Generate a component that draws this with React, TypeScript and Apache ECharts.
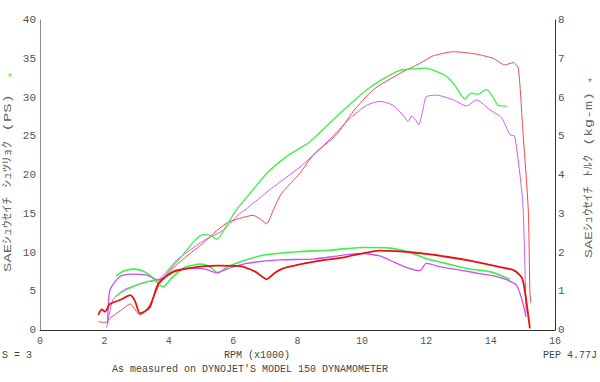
import React, { useEffect, useRef } from "react";
import * as echarts from "echarts";

// Run A (green)
const greenPowerRpm = [2.33, 2.6, 3.0, 3.5, 3.8, 4.0, 4.4, 4.8, 5.06, 5.3, 5.5, 5.8, 6.1, 6.5, 7.04, 7.7, 8.39, 9.1, 9.6, 10.15, 10.7, 11.18, 11.6, 11.96, 12.3, 12.63, 12.9, 13.2, 13.4, 13.6, 13.87, 14.05, 14.23, 14.5];
const greenPowerPs = [4.3, 5.0, 5.8, 6.4, 6.6, 7.6, 9.5, 11.5, 12.3, 12.2, 11.7, 13.5, 15.5, 17.5, 20.2, 22.5, 24.3, 27.1, 29.0, 31.0, 32.5, 33.5, 33.7, 33.8, 33.4, 32.7, 31.5, 29.8, 30.6, 30.4, 31.05, 30.2, 29.0, 28.9];
const greenTorqueRpm = [2.36, 2.6, 2.9, 3.2, 3.5, 3.82, 4.1, 4.5, 5.0, 5.3, 5.53, 5.8, 6.3, 7.0, 8.0, 9.0, 10.0, 10.8, 11.5, 12.0, 12.6, 13.3, 14.0, 14.6];
const greenTorqueKgm = [1.39, 1.52, 1.57, 1.52, 1.35, 1.11, 1.35, 1.62, 1.7, 1.62, 1.47, 1.62, 1.78, 1.94, 2.02, 2.06, 2.13, 2.12, 2.0, 1.84, 1.72, 1.58, 1.5, 1.31];

// Run B (magenta)
const magentaPowerRpm = [2.07, 2.15, 2.27, 2.59, 3.0, 3.3, 3.67, 3.95, 4.24, 4.66, 5.07, 5.4, 5.7, 6.2, 6.37, 7.2, 8.07, 8.6, 9.1, 9.6, 10.15, 10.56, 10.97, 11.28, 11.44, 11.54, 11.65, 11.77, 11.9, 12.0, 12.32, 12.84, 13.25, 13.56, 13.98, 14.34, 14.6, 14.75, 15.0, 15.1];
const magentaPowerPs = [0.26, 2.0, 3.9, 5.16, 5.8, 6.2, 6.45, 7.6, 9.0, 10.3, 11.5, 12.2, 12.9, 15.0, 15.5, 18.3, 21.0, 23.0, 25.0, 27.2, 29.0, 29.5, 29.0, 27.7, 26.9, 27.6, 27.2, 26.5, 28.5, 30.1, 30.3, 29.7, 28.9, 29.7, 28.4, 27.4, 25.2, 25.0, 16.3, 2.2];
const magentaTorqueRpm = [2.1, 2.17, 2.48, 2.8, 3.3, 3.68, 3.95, 4.24, 4.66, 5.1, 5.49, 5.9, 6.42, 7.45, 8.49, 9.3, 9.94, 10.56, 11.0, 11.28, 11.6, 11.8, 12.0, 12.5, 13.15, 13.7, 14.18, 14.5, 14.8, 14.96, 15.1];
const magentaTorqueKgm = [0.15, 1.03, 1.38, 1.44, 1.42, 1.29, 1.42, 1.55, 1.59, 1.58, 1.48, 1.6, 1.72, 1.81, 1.83, 1.92, 1.98, 1.91, 1.75, 1.65, 1.56, 1.53, 1.72, 1.62, 1.53, 1.45, 1.38, 1.3, 1.16, 0.82, 0.34];

// Run C (red)
const redPowerRpm = [1.81, 2.02, 2.2, 2.5, 2.8, 3.1, 3.31, 3.5, 3.73, 4.0, 4.35, 4.7, 5.07, 5.4, 5.8, 6.2, 6.62, 6.85, 7.04, 7.25, 7.5, 8.07, 8.49, 9.21, 9.73, 10.35, 11.18, 11.8, 12.2, 12.84, 13.2, 13.56, 14.08, 14.44, 14.7, 14.86, 15.0, 15.17, 15.22, 15.25];
const redPowerPs = [1.07, 0.95, 1.6, 2.5, 3.36, 1.94, 2.58, 4.0, 6.0, 7.4, 8.8, 10.0, 11.2, 12.5, 13.8, 14.4, 14.8, 14.3, 13.7, 15.5, 17.6, 20.2, 22.6, 25.2, 28.2, 31.0, 33.1, 34.4, 35.35, 35.9, 35.8, 35.6, 35.05, 34.2, 34.5, 33.8, 25.8, 15.5, 5.0, 3.5];
const redTorqueRpm = [1.81, 1.92, 2.02, 2.17, 2.5, 2.8, 2.95, 3.1, 3.25, 3.42, 3.68, 4.14, 4.76, 5.5, 6.21, 6.7, 7.04, 7.3, 7.56, 8.0, 8.49, 9.52, 10.56, 11.6, 12.63, 13.66, 14.3, 14.7, 14.9, 15.0, 15.1, 15.22];
const redTorqueKgm = [0.39, 0.53, 0.47, 0.67, 0.78, 0.9, 0.75, 0.43, 0.48, 0.6, 1.2, 1.5, 1.61, 1.66, 1.65, 1.5, 1.31, 1.48, 1.59, 1.68, 1.76, 1.89, 2.05, 2.0, 1.89, 1.74, 1.62, 1.55, 1.42, 1.29, 0.8, 0.04];

const xTicks = ["0", "2", "4", "6", "8", "10", "12", "14", "16"];

const FONT = "'Liberation Mono', 'DejaVu Sans Mono', 'Noto Sans CJK JP', monospace";

const zip = (xs: number[], ys: number[]) => xs.map((x, i) => [x, ys[i]]);

export default function App() {
  const ref = useRef<HTMLDivElement>(null);
  useEffect(() => {
    if (!ref.current) return;
    const chart = echarts.init(ref.current, undefined, { renderer: "svg" });
    const line = (name: string, xs: number[], ys: number[], color: string, width: number, yAxisIndex: number) => ({
      name,
      type: "line",
      data: zip(xs, ys),
      yAxisIndex,
      showSymbol: false,
      smooth: 0.2,
      lineStyle: { color, width },
      itemStyle: { color },
      z: width > 1.2 ? 3 : 2,
    });
    chart.setOption({
      animation: false,
      backgroundColor: "#ffffff",
      grid: { left: 40, right: 45, top: 20, bottom: 52 },
      xAxis: {
        type: "value",
        min: 0,
        max: 16,
        interval: 2,
        axisLine: { show: true, lineStyle: { color: "#333", width: 1 } },
        axisTick: { show: false },
        splitLine: { show: false },
        axisLabel: {
          fontFamily: FONT,
          fontSize: 10,
          color: "#555",
          margin: 6,
          formatter: (v: number) => xTicks[Math.round(v / 2)] ?? "",
        },
      },
      yAxis: [
        {
          type: "value",
          min: 0,
          max: 40,
          interval: 5,
          position: "left",
          axisLine: { show: true, lineStyle: { color: "#9a8890", width: 1 } },
          axisTick: { show: false },
          splitLine: { show: false },
          axisLabel: { fontFamily: FONT, fontSize: 11, color: "#555", margin: 4 },
        },
        {
          type: "value",
          min: 0,
          max: 8,
          interval: 1,
          position: "right",
          axisLine: { show: true, lineStyle: { color: "#333", width: 1 } },
          axisTick: { show: false },
          splitLine: { show: false },
          axisLabel: { fontFamily: FONT, fontSize: 11, color: "#555", margin: 3 },
        },
      ],
      series: [
        line("Power A", greenPowerRpm, greenPowerPs, "#3ef04a", 1.3, 0),
        line("Power B", magentaPowerRpm, magentaPowerPs, "#d458f2", 1, 0),
        line("Power C", redPowerRpm, redPowerPs, "#f04848", 1, 0),
        line("Torque A", greenTorqueRpm, greenTorqueKgm, "#3ef04a", 1.6, 1),
        line("Torque B", magentaTorqueRpm, magentaTorqueKgm, "#cc50f0", 1.3, 1),
        line("Torque C", redTorqueRpm, redTorqueKgm, "#e81010", 1.8, 1),
      ],
      graphic: [
        {
          type: "text",
          x: 8,
          y: 183,
          rotation: Math.PI / 2,
          scaleX: 1.42,
          style: {
            text: "SAEｼｭｳｾｲﾁ ｼｭﾂﾘｮｸ (PS)",
            font: `11px ${FONT}`,
            fill: "#666",
            align: "center",
            verticalAlign: "middle",
          },
        },
        {
          type: "text",
          x: 10,
          y: 78,
          style: { text: "*", font: `10px ${FONT}`, fill: "#3ef04a", align: "center", verticalAlign: "middle" },
        },
        {
          type: "text",
          x: 589,
          y: 175,
          rotation: Math.PI / 2,
          scaleX: 1.36,
          style: {
            text: "SAEｼｭｳｾｲﾁ ﾄﾙｸ (kg-m)",
            font: `11px ${FONT}`,
            fill: "#666",
            align: "center",
            verticalAlign: "middle",
          },
        },
        {
          type: "text",
          x: 590,
          y: 83,
          style: { text: "*", font: `10px ${FONT}`, fill: "#777", align: "center", verticalAlign: "middle" },
        },
        {
          type: "text",
          x: 2,
          y: 355,
          style: { text: "S = 3", font: `10px ${FONT}`, fill: "#444", align: "left", verticalAlign: "middle" },
        },
        {
          type: "text",
          x: 257,
          y: 355,
          style: { text: "RPM (x1000)", font: `10px ${FONT}`, fill: "#444", align: "center", verticalAlign: "middle" },
        },
        {
          type: "text",
          x: 597,
          y: 355,
          style: { text: "PEP 4.77J", font: `10px ${FONT}`, fill: "#444", align: "right", verticalAlign: "middle" },
        },
        {
          type: "text",
          x: 250,
          y: 369,
          style: {
            text: "As measured on DYNOJET'S MODEL 150 DYNAMOMETER",
            font: `10px ${FONT}`,
            fill: "#444",
            align: "center",
            verticalAlign: "middle",
          },
        },
      ],
    });
    return () => chart.dispose();
  }, []);
  return (
    <div
      ref={ref}
      style={{ position: "fixed", left: 0, top: 0, width: 600, height: 382, background: "#fff" }}
    />
  );
}
